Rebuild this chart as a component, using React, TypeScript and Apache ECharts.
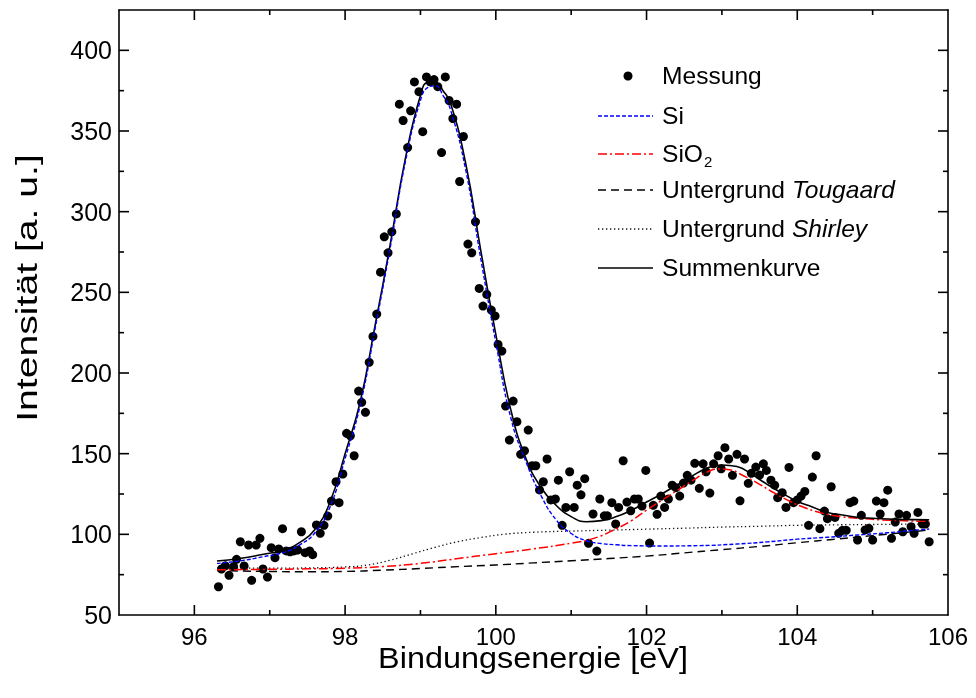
import { useEffect, useRef } from 'react';
import * as echarts from 'echarts';

const xMajorTicks = [96, 98, 100, 102, 104];
const xMinorTicks = [97, 99, 101, 103, 105];
const xLabelValues = [96, 98, 100, 102, 104, 106];
const yMajorTicks = [100, 150, 200, 250, 300, 350, 400];
const yMinorTicks = [75, 125, 175, 225, 275, 325, 375];
const yLabelValues = [50, 100, 150, 200, 250, 300, 350, 400];

const messung: [number, number][] = [
  [96.32, 67.5], [96.36, 78.5], [96.41, 80.5], [96.46, 74.6], [96.52, 80], [96.56, 84.5], [96.61, 95.4], [96.66, 80.4],
  [96.72, 93.4], [96.76, 71.5], [96.82, 93.4], [96.87, 97.5], [96.91, 78.5], [96.97, 73.5], [97.02, 91.7], [97.07, 85.5],
  [97.12, 90.9], [97.17, 103.5], [97.22, 89.7], [97.27, 89.2], [97.32, 89.7], [97.37, 90.3], [97.42, 101.6], [97.47, 88.6],
  [97.53, 89.7], [97.57, 87.4], [97.62, 105.8], [97.67, 100.6], [97.72, 105.6], [97.77, 111.3], [97.82, 120.6], [97.88, 132.6],
  [97.92, 119.6], [97.97, 137.4], [98.02, 162.6], [98.07, 161.1], [98.12, 148.7], [98.18, 188.8], [98.22, 181.8], [98.27, 175.6],
  [98.32, 206.6], [98.37, 222.7], [98.42, 236.5], [98.47, 262.5], [98.52, 284.4], [98.57, 274.5], [98.62, 287.5], [98.68, 298.6],
  [98.72, 366.6], [98.77, 356.5], [98.83, 339.7], [98.87, 362.5], [98.92, 380.4], [98.98, 374.4], [99.03, 349.6], [99.08, 383.5],
  [99.13, 380.4], [99.18, 381.9], [99.23, 377.5], [99.28, 336.6], [99.33, 383.5], [99.38, 368.9], [99.43, 357.7], [99.48, 366.6],
  [99.52, 318.7], [99.57, 346.6], [99.63, 279.9], [99.68, 274.5], [99.73, 293.7], [99.78, 252.4], [99.83, 241.5], [99.88, 248.7],
  [99.94, 239], [99.99, 235.4], [100.03, 217.7], [100.08, 213.6], [100.13, 179.5], [100.18, 158.4], [100.23, 182.6], [100.28, 169.8],
  [100.33, 149.6], [100.38, 151.8], [100.43, 164.6], [100.48, 142.5], [100.53, 142.5], [100.58, 127.5], [100.63, 132.6], [100.68, 146.7],
  [100.73, 121.3], [100.79, 121.9], [100.83, 133.6], [100.88, 105.6], [100.93, 116.7], [100.98, 138.8], [101.04, 116.7], [101.08, 130.5],
  [101.13, 124.5], [101.18, 134.5], [101.23, 94.4], [101.29, 112.6], [101.34, 89.6], [101.38, 121.9], [101.44, 111.5], [101.48, 111.5],
  [101.54, 119.6], [101.59, 106.4], [101.63, 116.7], [101.69, 145.6], [101.74, 120], [101.79, 114.6], [101.84, 121.9], [101.89, 121.9],
  [101.94, 117.5], [101.99, 139.6], [102.04, 94.6], [102.09, 118], [102.14, 112.4], [102.19, 123.7], [102.24, 116.7], [102.29, 121.9],
  [102.34, 130.5], [102.39, 128.9], [102.44, 123.7], [102.49, 131.8], [102.54, 136.6], [102.59, 133.6], [102.64, 144], [102.7, 128.5],
  [102.75, 143.7], [102.79, 138.8], [102.84, 125.6], [102.89, 143.7], [102.95, 148.7], [102.99, 140.6], [103.04, 153.7], [103.09, 146.7],
  [103.14, 136.6], [103.2, 149.6], [103.24, 120.8], [103.3, 146.7], [103.35, 131.6], [103.39, 137.8], [103.45, 141.7], [103.5, 136.7],
  [103.55, 143.7], [103.59, 139.6], [103.65, 133.6], [103.7, 130.5], [103.74, 122.7], [103.8, 125.8], [103.85, 116.7], [103.89, 141.5],
  [103.95, 119.6], [104.0, 121.3], [104.05, 123.7], [104.1, 126.6], [104.15, 105.6], [104.2, 135.5], [104.25, 148.7], [104.3, 103.5],
  [104.36, 114.4], [104.4, 109.7], [104.45, 129.5], [104.5, 110.5], [104.55, 100.6], [104.6, 102.5], [104.65, 102.5], [104.7, 119.6],
  [104.75, 120.6], [104.8, 96.5], [104.85, 111.8], [104.9, 102.7], [104.95, 103.7], [105.0, 96.5], [105.05, 120.6], [105.1, 112.6],
  [105.15, 119.6], [105.2, 127.4], [105.25, 97.5], [105.3, 107.6], [105.35, 112.6], [105.4, 101.6], [105.45, 111.8], [105.51, 104.7],
  [105.55, 100.6], [105.6, 113.6], [105.66, 106.4], [105.7, 106.4], [105.75, 95.4],
];

const siCurve: [number, number][] = [
  [96.3, 82], [96.6, 83.5], [96.9, 86], [97.2, 89], [97.4, 93.5], [97.6, 101], [97.8, 117], [98.0, 147], [98.2, 180],
  [98.4, 228], [98.6, 278], [98.8, 331], [99.0, 369], [99.1, 377], [99.2, 378], [99.3, 372], [99.4, 363], [99.6, 326],
  [99.8, 271], [100.0, 219], [100.2, 172], [100.4, 145], [100.6, 124], [100.8, 109], [101.0, 100.5], [101.2, 96],
  [101.4, 94.3], [101.6, 93.5], [101.8, 93], [102.2, 92.8], [102.7, 93], [103.2, 94], [103.6, 95.3], [104.0, 97],
  [104.4, 98.2], [104.8, 99.6], [105.2, 101], [105.5, 102.3], [105.75, 103.3],
];

const sio2Curve: [number, number][] = [
  [96.3, 78], [97.0, 78.3], [97.5, 78.6], [98.0, 79], [98.5, 80], [99.0, 82], [99.5, 85], [100.0, 88], [100.5, 91],
  [101.0, 94.5], [101.3, 97.5], [101.6, 103.5], [101.8, 108.5], [102.0, 115], [102.2, 121], [102.4, 127], [102.6, 133],
  [102.8, 138.5], [102.95, 140.5], [103.1, 140], [103.3, 136], [103.5, 131], [103.7, 125.5], [103.9, 120.5], [104.1, 116.5],
  [104.3, 113.5], [104.5, 111.5], [104.8, 110], [105.2, 108.8], [105.75, 108],
];

const tougaardCurve: [number, number][] = [
  [96.3, 77.5], [97.0, 77], [97.5, 76.8], [98.0, 77], [98.5, 77.8], [99.0, 78.8], [99.5, 80], [100.0, 81], [100.5, 82.3],
  [101.0, 83.6], [101.5, 85], [102.0, 86.5], [102.5, 88.5], [103.0, 90.5], [103.5, 92.5], [104.0, 94.8], [104.5, 97],
  [105.0, 99.2], [105.5, 101.5], [105.75, 102.7],
];

const shirleyCurve: [number, number][] = [
  [96.3, 79], [97.0, 79], [97.5, 79.2], [98.0, 79.8], [98.3, 81], [98.6, 84], [98.9, 88], [99.2, 92], [99.5, 95.5],
  [99.8, 98], [100.1, 100], [100.5, 101.3], [101.0, 102], [101.5, 102.6], [102.0, 103.2], [102.5, 103.8], [103.0, 104.5],
  [103.5, 105], [104.0, 105.6], [104.5, 105.9], [105.0, 106.1], [105.75, 106.4],
];

const sumCurve: [number, number][] = [
  [96.3, 83.5], [96.6, 85], [96.9, 87.5], [97.2, 90.5], [97.4, 95], [97.6, 103], [97.8, 120], [98.0, 150], [98.2, 182],
  [98.4, 230], [98.6, 280], [98.8, 333], [99.0, 372], [99.1, 380], [99.2, 380], [99.3, 375], [99.4, 367], [99.6, 330],
  [99.8, 276], [100.0, 224], [100.2, 177], [100.4, 147], [100.6, 129], [100.8, 118], [101.0, 111], [101.2, 107.8],
  [101.4, 108.5], [101.6, 111], [101.8, 115], [102.0, 120], [102.2, 125], [102.4, 130.5], [102.6, 136], [102.8, 141],
  [103.0, 143], [103.2, 142], [103.4, 137], [103.6, 131], [103.8, 125.5], [104.0, 120.5], [104.2, 117], [104.4, 113.5],
  [104.6, 112], [104.8, 110.5], [105.0, 110], [105.3, 109.3], [105.75, 109],
];

const legendLabels = ['Messung', 'Si', 'SiO{sub|2}', 'Untergrund {it|Tougaard}', 'Untergrund {it|Shirley}', 'Summenkurve'];

const FONT = 'Liberation Sans, Arial, sans-serif';
const X_MIN = 95;
const X_MAX = 106;
const Y_MIN = 50;
const Y_MAX = 425;
const MAJOR = 10;
const MINOR = 5;
const TW = 1.6;

const tickData = [
  ...xMajorTicks.map((v) => [v, Y_MIN, 0, MAJOR]),
  ...xMinorTicks.map((v) => [v, Y_MIN, 0, MINOR]),
  ...yMajorTicks.map((v) => [X_MIN, v, 1, MAJOR]),
  ...yMinorTicks.map((v) => [X_MIN, v, 1, MINOR]),
];

function xAxisOpt(position: string, labels: boolean) {
  return {
    type: 'value', min: X_MIN, max: X_MAX, interval: 1, position,
    axisLine: { show: true, lineStyle: { color: '#000', width: TW } },
    axisTick: { show: false },
    splitLine: { show: false },
    axisLabel: labels
      ? {
          show: true, color: '#000', fontSize: 24, fontFamily: FONT, margin: 9,
          formatter: (v: number) => (xLabelValues.includes(v) ? String(v) : ''),
        }
      : { show: false },
  };
}

function yAxisOpt(position: string, labels: boolean) {
  return {
    type: 'value', min: Y_MIN, max: Y_MAX, interval: 50, position,
    axisLine: { show: true, lineStyle: { color: '#000', width: TW } },
    axisTick: { show: false },
    splitLine: { show: false },
    axisLabel: labels
      ? {
          show: true, color: '#000', fontSize: 25, fontFamily: FONT, margin: 7,
          formatter: (v: number) => (yLabelValues.includes(v) ? String(v) : ''),
        }
      : { show: false },
  };
}

export default function App() {
  const ref = useRef<HTMLDivElement>(null);
  useEffect(() => {
    const chart = echarts.init(ref.current!, null, { renderer: 'svg' });
    const legendY = [76, 116, 154, 190, 229, 268];
    const lx1 = 598;
    const lx2 = 653;
    const tx = 662;
    const lineStyles: any[] = [
      null,
      { stroke: '#0000ff', lineWidth: 1.4, lineDash: [4, 2] },
      { stroke: '#ff0000', lineWidth: 1.5, lineDash: [9, 3, 2, 3] },
      { stroke: '#000000', lineWidth: 1.4, lineDash: [8, 5] },
      { stroke: '#111111', lineWidth: 1.3, lineDash: [1.3, 2.7] },
      { stroke: '#000000', lineWidth: 1.6 },
    ];
    const graphics: any[] = [];
    legendLabels.forEach((label, i) => {
      const y = legendY[i];
      if (i === 0) {
        graphics.push({ type: 'circle', shape: { cx: 628, cy: y, r: 4.5 }, style: { fill: '#000' } });
      } else {
        graphics.push({ type: 'line', shape: { x1: lx1, y1: y, x2: lx2, y2: y }, style: { ...lineStyles[i], fill: null } });
      }
      graphics.push({
        type: 'text',
        x: tx,
        y,
        scaleX: 1.07,
        style: {
          text: label,
          fill: '#000',
          fontSize: 23,
          fontFamily: FONT,
          verticalAlign: 'middle',
          align: 'left',
          rich: {
            it: { fontStyle: 'italic', fontSize: 23, fontFamily: FONT, fill: '#000' },
            sub: { fontSize: 14, fontFamily: FONT, fill: '#000', padding: [16, 0, 0, 1] },
          },
        },
      });
    });
    graphics.push({
      type: 'text',
      x: 27,
      y: 288,
      rotation: Math.PI / 2,
      scaleX: 1.35,
      style: {
        text: 'Intensität [a. u.]',
        fill: '#000',
        fontSize: 29,
        fontFamily: FONT,
        align: 'center',
        verticalAlign: 'middle',
      },
    });
    graphics.push({
      type: 'text',
      x: 533,
      y: 658,
      scaleX: 1.08,
      style: {
        text: 'Bindungsenergie [eV]',
        fill: '#000',
        fontSize: 30,
        fontFamily: FONT,
        align: 'center',
        verticalAlign: 'middle',
      },
    });

    const option: any = {
      animation: false,
      grid: { left: 119, right: 28, top: 10, bottom: 83 },
      xAxis: [xAxisOpt('bottom', true), xAxisOpt('top', false)],
      yAxis: [yAxisOpt('left', true), yAxisOpt('right', false)],
      series: [
        {
          name: 'ticks', type: 'custom', data: tickData, clip: false,
          renderItem: (_p: any, api: any) => {
            const vx = api.value(0);
            const vy = api.value(1);
            const isY = api.value(2) === 1;
            const len = api.value(3);
            if (!isY) {
              const b = api.coord([vx, Y_MIN]);
              const t = api.coord([vx, Y_MAX]);
              return {
                type: 'group',
                children: [
                  { type: 'rect', shape: { x: b[0] - TW / 2, y: b[1] - len, width: TW, height: len }, style: { fill: '#000' } },
                  { type: 'rect', shape: { x: t[0] - TW / 2, y: t[1], width: TW, height: len }, style: { fill: '#000' } },
                ],
              };
            }
            const l = api.coord([X_MIN, vy]);
            const r = api.coord([X_MAX, vy]);
            return {
              type: 'group',
              children: [
                { type: 'rect', shape: { x: l[0], y: l[1] - TW / 2, width: len, height: TW }, style: { fill: '#000' } },
                { type: 'rect', shape: { x: r[0] - len, y: r[1] - TW / 2, width: len, height: TW }, style: { fill: '#000' } },
              ],
            };
          },
        },
        {
          name: 'Untergrund Shirley', type: 'line', data: shirleyCurve, smooth: true, showSymbol: false,
          lineStyle: { color: '#111111', width: 1.3, type: [1.3, 2.7] },
        },
        {
          name: 'Untergrund Tougaard', type: 'line', data: tougaardCurve, smooth: true, showSymbol: false,
          lineStyle: { color: '#000000', width: 1.4, type: [8, 5] },
        },
        {
          name: 'SiO2', type: 'line', data: sio2Curve, smooth: true, showSymbol: false,
          lineStyle: { color: '#ff0000', width: 1.5, type: [9, 3, 2, 3] },
        },
        {
          name: 'Summenkurve', type: 'line', data: sumCurve, smooth: true, showSymbol: false,
          lineStyle: { color: '#000000', width: 1.6 },
        },
        {
          name: 'Si', type: 'line', data: siCurve, smooth: true, showSymbol: false,
          lineStyle: { color: '#0000ff', width: 1.4, type: [4, 2] },
        },
        {
          name: 'Messung', type: 'scatter', data: messung, symbol: 'circle', symbolSize: 9,
          itemStyle: { color: '#000000', opacity: 1 },
        },
      ],
      graphic: graphics,
    };
    chart.setOption(option);
    return () => chart.dispose();
  }, []);
  return <div ref={ref} style={{ position: 'fixed', left: 0, top: 0, width: 976, height: 698 }} />;
}
